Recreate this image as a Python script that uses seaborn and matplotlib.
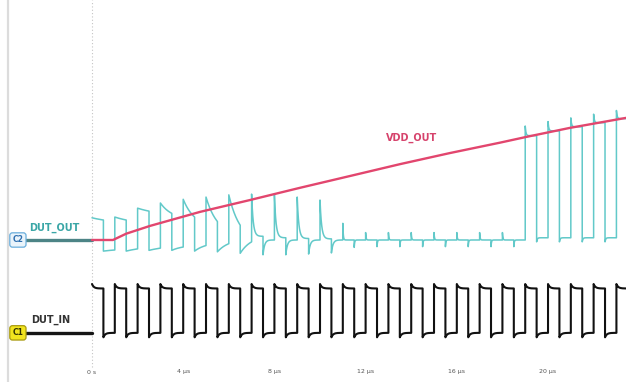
import numpy as np
import pandas as pd
import matplotlib
matplotlib.use("Agg")
import matplotlib.pyplot as plt
import seaborn as sns

# ---- captured data (time in µs, levels in V) ----
clock_rise_us = [0.0, 1.0, 2.0, 3.0, 4.0, 5.0, 6.0, 7.0, 8.0, 9.0, 10.0, 11.0,
                 12.0, 13.0, 14.0, 15.0, 16.0, 17.0, 18.0, 19.0, 20.0, 21.0, 22.0, 23.0]
half_period_us = 0.5
trace_start_us = -3.05

# DUT_IN (channel C1)
in_low_v = 0.0
in_high_v = 1.2
in_overshoot_v = 0.12
in_offset_v = -2.51

# DUT_OUT (channel C2), one entry per clock cycle
out_peak_v = [0.60, 0.62, 0.86, 1.00, 1.10, 1.16, 1.22, 1.24, 1.22, 1.16, 1.08, 0.45,
              0.20, 0.20, 0.20, 0.20, 0.20, 0.20, 0.20, 3.08, 3.20, 3.30, 3.40, 3.50]
out_high_end_v = [0.54, 0.54, 0.78, 0.72, 0.62, 0.50, 0.40, 0.10, 0.06, 0.04, 0.03, 0.0,
                  0.0, 0.0, 0.0, 0.0, 0.0, 0.0, 0.0, 2.82, 2.95, 3.06, 3.17, 3.28]
out_dip_v = [-0.30, -0.30, -0.28, -0.28, -0.30, -0.32, -0.36, -0.40, -0.40, -0.38, -0.35, -0.20,
             -0.18, -0.18, -0.18, -0.18, -0.18, -0.18, -0.18, -0.05, -0.05, -0.05, -0.05, -0.05]
out_low_end_v = [-0.27, -0.24, -0.22, -0.19, -0.15, -0.10, -0.05, 0.0, 0.0, 0.0, 0.0, 0.0,
                 0.0, 0.0, 0.0, 0.0, 0.0, 0.0, 0.0, 0.06, 0.06, 0.06, 0.06, 0.06]
out_settle_us = [1.0, 1.0, 1.0, 0.5, 0.5, 0.5, 0.5, 0.07, 0.07, 0.07, 0.07, 0.02,
                 0.02, 0.02, 0.02, 0.02, 0.02, 0.02, 0.02, 0.03, 0.03, 0.03, 0.03, 0.03]

# VDD_OUT supply ramp
vdd_t_us = [0.0, 0.92, 1.5, 2.54, 4.74, 6.93, 9.12, 11.32, 13.51, 15.70, 17.89, 19.08, 20.96, 23.42]
vdd_v = [0.0, 0.0, 0.17, 0.38, 0.76, 1.08, 1.41, 1.73, 2.05, 2.35, 2.63, 2.79, 3.03, 3.30]

tick_us = [0, 4, 8, 12, 16, 20]
tick_labels = ["0 s", "4 µs", "8 µs", "12 µs", "16 µs", "20 µs"]


def settle(t0, v_start, v_end, tau, dur, n=40):
    """Exponential settling from v_start to v_end over one half period."""
    s = np.linspace(0.0, dur, n)
    w = (np.exp(-s / tau) - np.exp(-dur / tau)) / (1.0 - np.exp(-dur / tau))
    return t0 + s, v_end + (v_start - v_end) * w


def build_out():
    ts, vs = [], []
    for k, t0 in enumerate(clock_rise_us):
        t, v = settle(t0, out_peak_v[k], out_high_end_v[k], out_settle_us[k], half_period_us)
        ts.append(t); vs.append(v)
        t, v = settle(t0 + half_period_us, out_dip_v[k], out_low_end_v[k],
                      out_settle_us[k], half_period_us)
        ts.append(t); vs.append(v)
    return np.concatenate(ts), np.concatenate(vs)


def build_in():
    ts, vs = [], []
    for t0 in clock_rise_us:
        t, v = settle(t0, in_high_v + in_overshoot_v, in_high_v, 0.08, half_period_us)
        ts.append(t); vs.append(v)
        t, v = settle(t0 + half_period_us, in_low_v - in_overshoot_v, in_low_v, 0.08, half_period_us)
        ts.append(t); vs.append(v)
    return np.concatenate(ts), np.concatenate(vs) + in_offset_v


out_t, out_v = build_out()
in_t, in_v = build_in()

df_out = pd.DataFrame({"t": out_t, "v": out_v})
df_in = pd.DataFrame({"t": in_t, "v": in_v})
df_vdd = pd.DataFrame({"t": vdd_t_us, "v": vdd_v})
df_pre_out = pd.DataFrame({"t": [trace_start_us, 0.0], "v": [0.0, 0.0]})
df_pre_in = pd.DataFrame({"t": [trace_start_us, 0.0], "v": [in_offset_v, in_offset_v]})

sns.set_theme(style="white")
plt.rcParams["font.family"] = ["DejaVu Sans"]

fig = plt.figure(figsize=(6.26, 3.82), dpi=100)
ax = fig.add_axes([0, 0, 1, 1])
ax.set_xlim(-4.035, 23.42)
ax.set_ylim(-3.838, 6.486)
for sp in ax.spines.values():
    sp.set_visible(False)

# screen furniture: left frame edge and trigger cursor
ax.axvline(-3.68, color="#dcdcdc", lw=1.6, zorder=0)
ax.axvline(0.0, ymin=0.04, ymax=1.0, color="#c4c4c4", lw=0.8, ls=(0, (1, 2)), zorder=0)

common = dict(estimator=None, sort=False, legend=False, ax=ax)
sns.lineplot(data=df_pre_out, x="t", y="v", color="#4d8486", lw=2.4, zorder=3, **common)
sns.lineplot(data=df_pre_in, x="t", y="v", color="#151515", lw=2.4, zorder=3, **common)
sns.lineplot(data=df_out, x="t", y="v", color="#62c9c9", lw=1.1, zorder=2, **common)
sns.lineplot(data=df_in, x="t", y="v", color="#111111", lw=1.5, zorder=2, **common)
sns.lineplot(data=df_vdd, x="t", y="v", color="#e2466e", lw=1.7, zorder=4, **common)

# trace labels
ax.text(-2.75, 0.32, "DUT_OUT", color="#3aa6a6", fontsize=7, fontweight="bold",
        ha="left", va="center")
ax.text(-2.65, in_offset_v + 0.35, "DUT_IN", color="#333333", fontsize=7, fontweight="bold",
        ha="left", va="center")
ax.text(12.9, 2.75, "VDD_OUT", color="#d6436c", fontsize=7, fontweight="bold",
        ha="left", va="center")

# channel markers
ax.text(-3.25, 0.0, "C2", color="#2f70b0", fontsize=5.5, fontweight="bold", ha="center",
        va="center", zorder=5,
        bbox=dict(boxstyle="round,pad=0.35", fc="#eaf4fb", ec="#6aaedc", lw=0.9))
ax.text(-3.25, in_offset_v, "C1", color="#333300", fontsize=5.5, fontweight="bold",
        ha="center", va="center", zorder=5,
        bbox=dict(boxstyle="round,pad=0.35", fc="#f2e41e", ec="#a89a10", lw=0.9))

ax.set_xticks(tick_us)
ax.set_xticklabels(tick_labels)
ax.set_yticks([])
ax.tick_params(axis="x", direction="in", length=0, pad=-9, labelsize=4.5, labelcolor="#555555")
ax.set_xlabel("")
ax.set_ylabel("")

fig.savefig("out.png", dpi=100, facecolor="white")
